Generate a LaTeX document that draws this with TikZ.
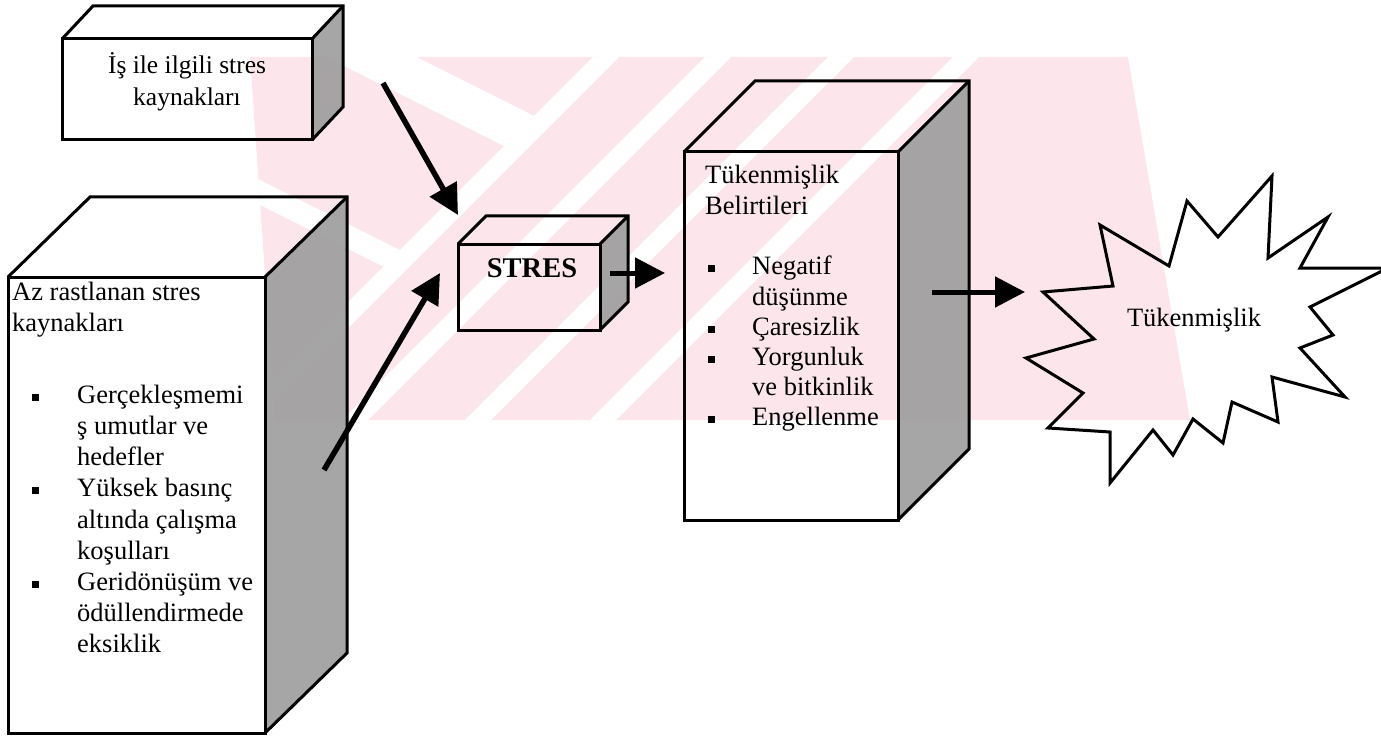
\documentclass[tikz,border=0pt]{standalone}
\usepackage{fontspec}
\setmainfont{Liberation Serif}
\usetikzlibrary{arrows.meta,calc}

\definecolor{wmpink}{RGB}{252,230,235}
\definecolor{sidegray}{RGB}{158,158,158}

\tikzset{
  edge/.style={line width=3pt, line join=miter},
  side/.style={fill=sidegray, fill opacity=0.92},
  flow/.style={line width=5pt, -{Triangle[length=30pt,width=30pt]}},
  thickflow/.style={flow, line width=5.5pt},
  txt/.style={inner sep=0pt, font=\fontsize{26.5}{31.2}\selectfont},
}

% bullet square
\newcommand{\blt}{\rule[2.5pt]{7pt}{7pt}}

% cuboid: name, x1, y1, x2, y2 (front face), depth dx, depth dy (upwards)
\newcommand{\cuboid}[7]{%
  \fill[side] (#4,#3) -- ++(#6,-#7) -- ++(0,{#5-#3}) -- (#4,#5) -- cycle;
  \draw[edge] (#2,#3) rectangle (#4,#5);
  \draw[edge] (#2,#3) -- ++(#6,-#7) -- ++({#4-#2},0) -- ++(0,{#5-#3}) -- (#4,#5);
  \draw[edge] (#4,#3) -- ++(#6,-#7);
  \coordinate (#1) at ({(#2+#4)/2},{(#3+#5)/2});
}

\begin{document}
\begin{tikzpicture}[x=1pt,y=-1pt]
\useasboundingbox (0,0) rectangle (1381,738);

% faint striped background mark
\begin{scope}
  \clip (250,57) -- (1128,57) -- (1190,420) -- (275,420) -- cycle;
  \fill[wmpink] (150,0) rectangle (1250,450);
  \foreach \c in {650,762,885,1010}
    {\fill[white] (\c,0) -- ({\c+26},0) -- ({\c+26-600},600) -- ({\c-600},600) -- cycle;}
  \begin{scope}
    \clip (0,0) -- (650,0) -- (50,600) -- (0,600) -- cycle;
    \fill[white] (0,-151) -- (900,299) -- (900,344) -- (0,-106) -- cycle;
    \fill[white] (0,50) -- (900,500) -- (900,525) -- (0,75) -- cycle;
  \end{scope}
\end{scope}

% boxes
\cuboid{jobbox}{62}{39}{312}{140}{31}{33}
\cuboid{rarebox}{8}{277}{265}{733}{82}{80}
\cuboid{stressbox}{458}{244}{600}{330}{28}{28}
\cuboid{symbox}{684}{152}{898}{520}{71}{71}

% texts (first baseline at the given point)
\node[txt, anchor=base, font=\fontsize{25.5}{32}\selectfont] (jobtext) at (187,74)
  {\begin{tabular}[t]{@{}c@{}}İş ile ilgili stres\\kaynakları\end{tabular}};

\node[txt, anchor=base west] (raretext) at (12,300)
  {\begin{tabular}[t]{@{}l@{}}
   Az rastlanan stres\\
   kaynakları\\[40.8pt]
   \hspace*{20pt}\makebox[45pt][l]{\blt}Gerçekleşmemi\\
   \hspace*{65pt}ş umutlar ve\\
   \hspace*{65pt}hedefler\\
   \hspace*{20pt}\makebox[45pt][l]{\blt}Yüksek basınç\\
   \hspace*{65pt}altında çalışma\\
   \hspace*{65pt}koşulları\\
   \hspace*{20pt}\makebox[45pt][l]{\blt}Geridönüşüm ve\\
   \hspace*{65pt}ödüllendirmede\\
   \hspace*{65pt}eksiklik
   \end{tabular}};

\node[txt, anchor=base, font=\bfseries\fontsize{28.5}{32}\selectfont] (stresstext) at (532,277.5) {STRES};

\node[txt, anchor=base west, font=\fontsize{26.5}{30.2}\selectfont] (symtext) at (705,184)
  {\begin{tabular}[t]{@{}l@{}}
   Tükenmişlik\\
   Belirtileri\\[30.6pt]
   \hspace*{3pt}\makebox[44pt][l]{\blt}Negatif\\
   \hspace*{47pt}düşünme\\
   \hspace*{3pt}\makebox[44pt][l]{\blt}Çaresizlik\\
   \hspace*{3pt}\makebox[44pt][l]{\blt}Yorgunluk\\
   \hspace*{47pt}ve bitkinlik\\
   \hspace*{3pt}\makebox[44pt][l]{\blt}Engellenme
   \end{tabular}};

% burst
\draw[edge] (1043,292) -- (1113,286) -- (1100,225) -- (1169,266) -- (1187,201)
  -- (1218,237) -- (1272,176) -- (1268,258) -- (1328,217) -- (1300,268)
  -- (1388,268) -- (1310,307) -- (1333,335) -- (1300,348) -- (1345,397)
  -- (1272,377) -- (1278,422) -- (1232,402) -- (1223,443) -- (1193,419)
  -- (1173,455) -- (1153,430) -- (1110,483) -- (1110,432) -- (1048,428)
  -- (1083,393) -- (1026,358) -- (1094,339) -- cycle;
\coordinate (burst) at (1043,292);
\node[txt, anchor=base] (bursttext) at (1194,326) {Tükenmişlik};

% connector ends
\coordinate (jobout) at (383,83);
\coordinate (stressinA) at (458,215);
\coordinate (rareout) at (324,470);
\coordinate (stressinB) at (440,273);
\coordinate (stressout) at (610,273);
\coordinate (symin) at (665,273);
\coordinate (symout) at (932,292);
\coordinate (burstin) at (1025,292);

% connectors
\draw[thickflow] (jobout) -- (stressinA);
\draw[thickflow] (rareout) -- (stressinB);
\draw[flow] (stressout) -- (symin);
\draw[flow] (symout) -- (burstin);
\end{tikzpicture}
\end{document}
